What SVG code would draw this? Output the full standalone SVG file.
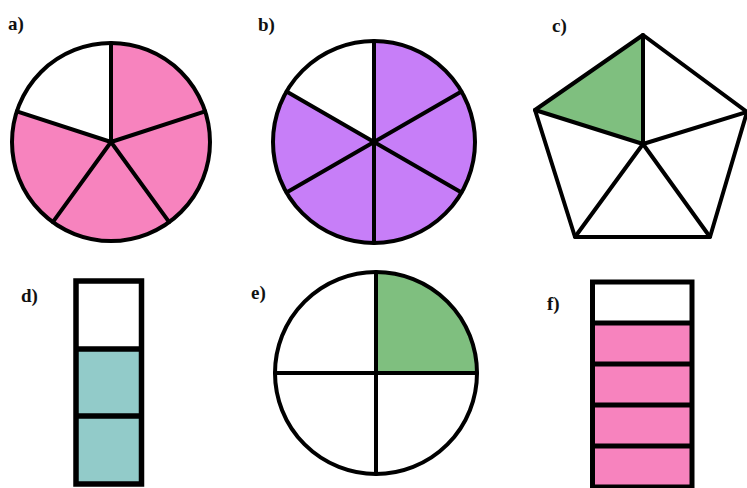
<svg xmlns="http://www.w3.org/2000/svg" width="747" height="488" viewBox="0 0 747 488">
<style>
.ln{stroke:#000;stroke-width:4;stroke-linejoin:round;stroke-linecap:round;}
.lbl{font-family:"Liberation Serif","Times New Roman",serif;font-weight:bold;font-size:19px;fill:#111;}
.pink{fill:#F783BE;}
.purple{fill:#C77EF8;}
.green{fill:#7FBF7F;}
.teal{fill:#92CBC9;}
.white{fill:#fff;}
</style>
<rect width="747" height="488" fill="#fff"/>
<g id="a">
<circle cx="111" cy="142" r="99" class="pink"/>
<path d="M111,142 L16.84,111.41 A99,99 0 0 1 111,43 Z" class="white"/>
<g class="ln" fill="none">
<circle cx="111" cy="142" r="99"/>
<path d="M111,142 L111,43 M111,142 L205.16,111.41 M111,142 L169.19,222.09 M111,142 L52.81,222.09 M111,142 L16.84,111.41"/>
</g>
<text x="8" y="30" class="lbl">a)</text>
</g>
<g id="b">
<circle cx="374" cy="142" r="101" class="purple"/>
<path d="M374,142 L286.53,91.5 A101,101 0 0 1 374,41 Z" class="white"/>
<g class="ln" fill="none">
<circle cx="374" cy="142" r="101"/>
<path d="M374,41 L374,243 M461.47,91.5 L286.53,192.5 M461.47,192.5 L286.53,91.5"/>
</g>
<text x="258" y="31" class="lbl">b)</text>
</g>
<g id="c">
<polygon points="643,35 747,112 710,237 575,237 535,110" class="white"/>
<polygon points="643,35 643,144 535,110" class="green"/>
<g class="ln" fill="none">
<polygon points="643,35 747,112 710,237 575,237 535,110"/>
<path d="M643,144 L643,35 M643,144 L747,112 M643,144 L710,237 M643,144 L575,237 M643,144 L535,110"/>
</g>
<text x="552" y="32" class="lbl">c)</text>
</g>
<g id="d">
<rect x="76" y="281" width="65.5" height="68" class="white"/>
<rect x="76" y="349" width="65.5" height="135" class="teal"/>
<g class="ln" fill="none" style="stroke-width:5.5;stroke-linecap:butt;stroke-linejoin:miter">
<rect x="76" y="281" width="65.5" height="203"/>
<path d="M76,349 L141.5,349 M76,416 L141.5,416"/>
</g>
<text x="21" y="302" class="lbl">d)</text>
</g>
<g id="e">
<circle cx="376" cy="373" r="101" class="white"/>
<path d="M376,373 L376,272 A101,101 0 0 1 477,373 Z" class="green"/>
<g class="ln" fill="none">
<circle cx="376" cy="373" r="101"/>
<path d="M376,272 L376,474 M275,373 L477,373"/>
</g>
<text x="251" y="299" class="lbl">e)</text>
</g>
<g id="f">
<rect x="592.5" y="282" width="99.5" height="41" class="white"/>
<rect x="592.5" y="323" width="99.5" height="164" class="pink"/>
<g class="ln" fill="none" style="stroke-width:5;stroke-linecap:butt;stroke-linejoin:miter">
<rect x="592.5" y="282" width="99.5" height="205"/>
<path d="M592.5,323 L692,323 M592.5,364 L692,364 M592.5,405 L692,405 M592.5,446 L692,446"/>
</g>
<text x="547" y="310" class="lbl">f)</text>
</g>
</svg>
